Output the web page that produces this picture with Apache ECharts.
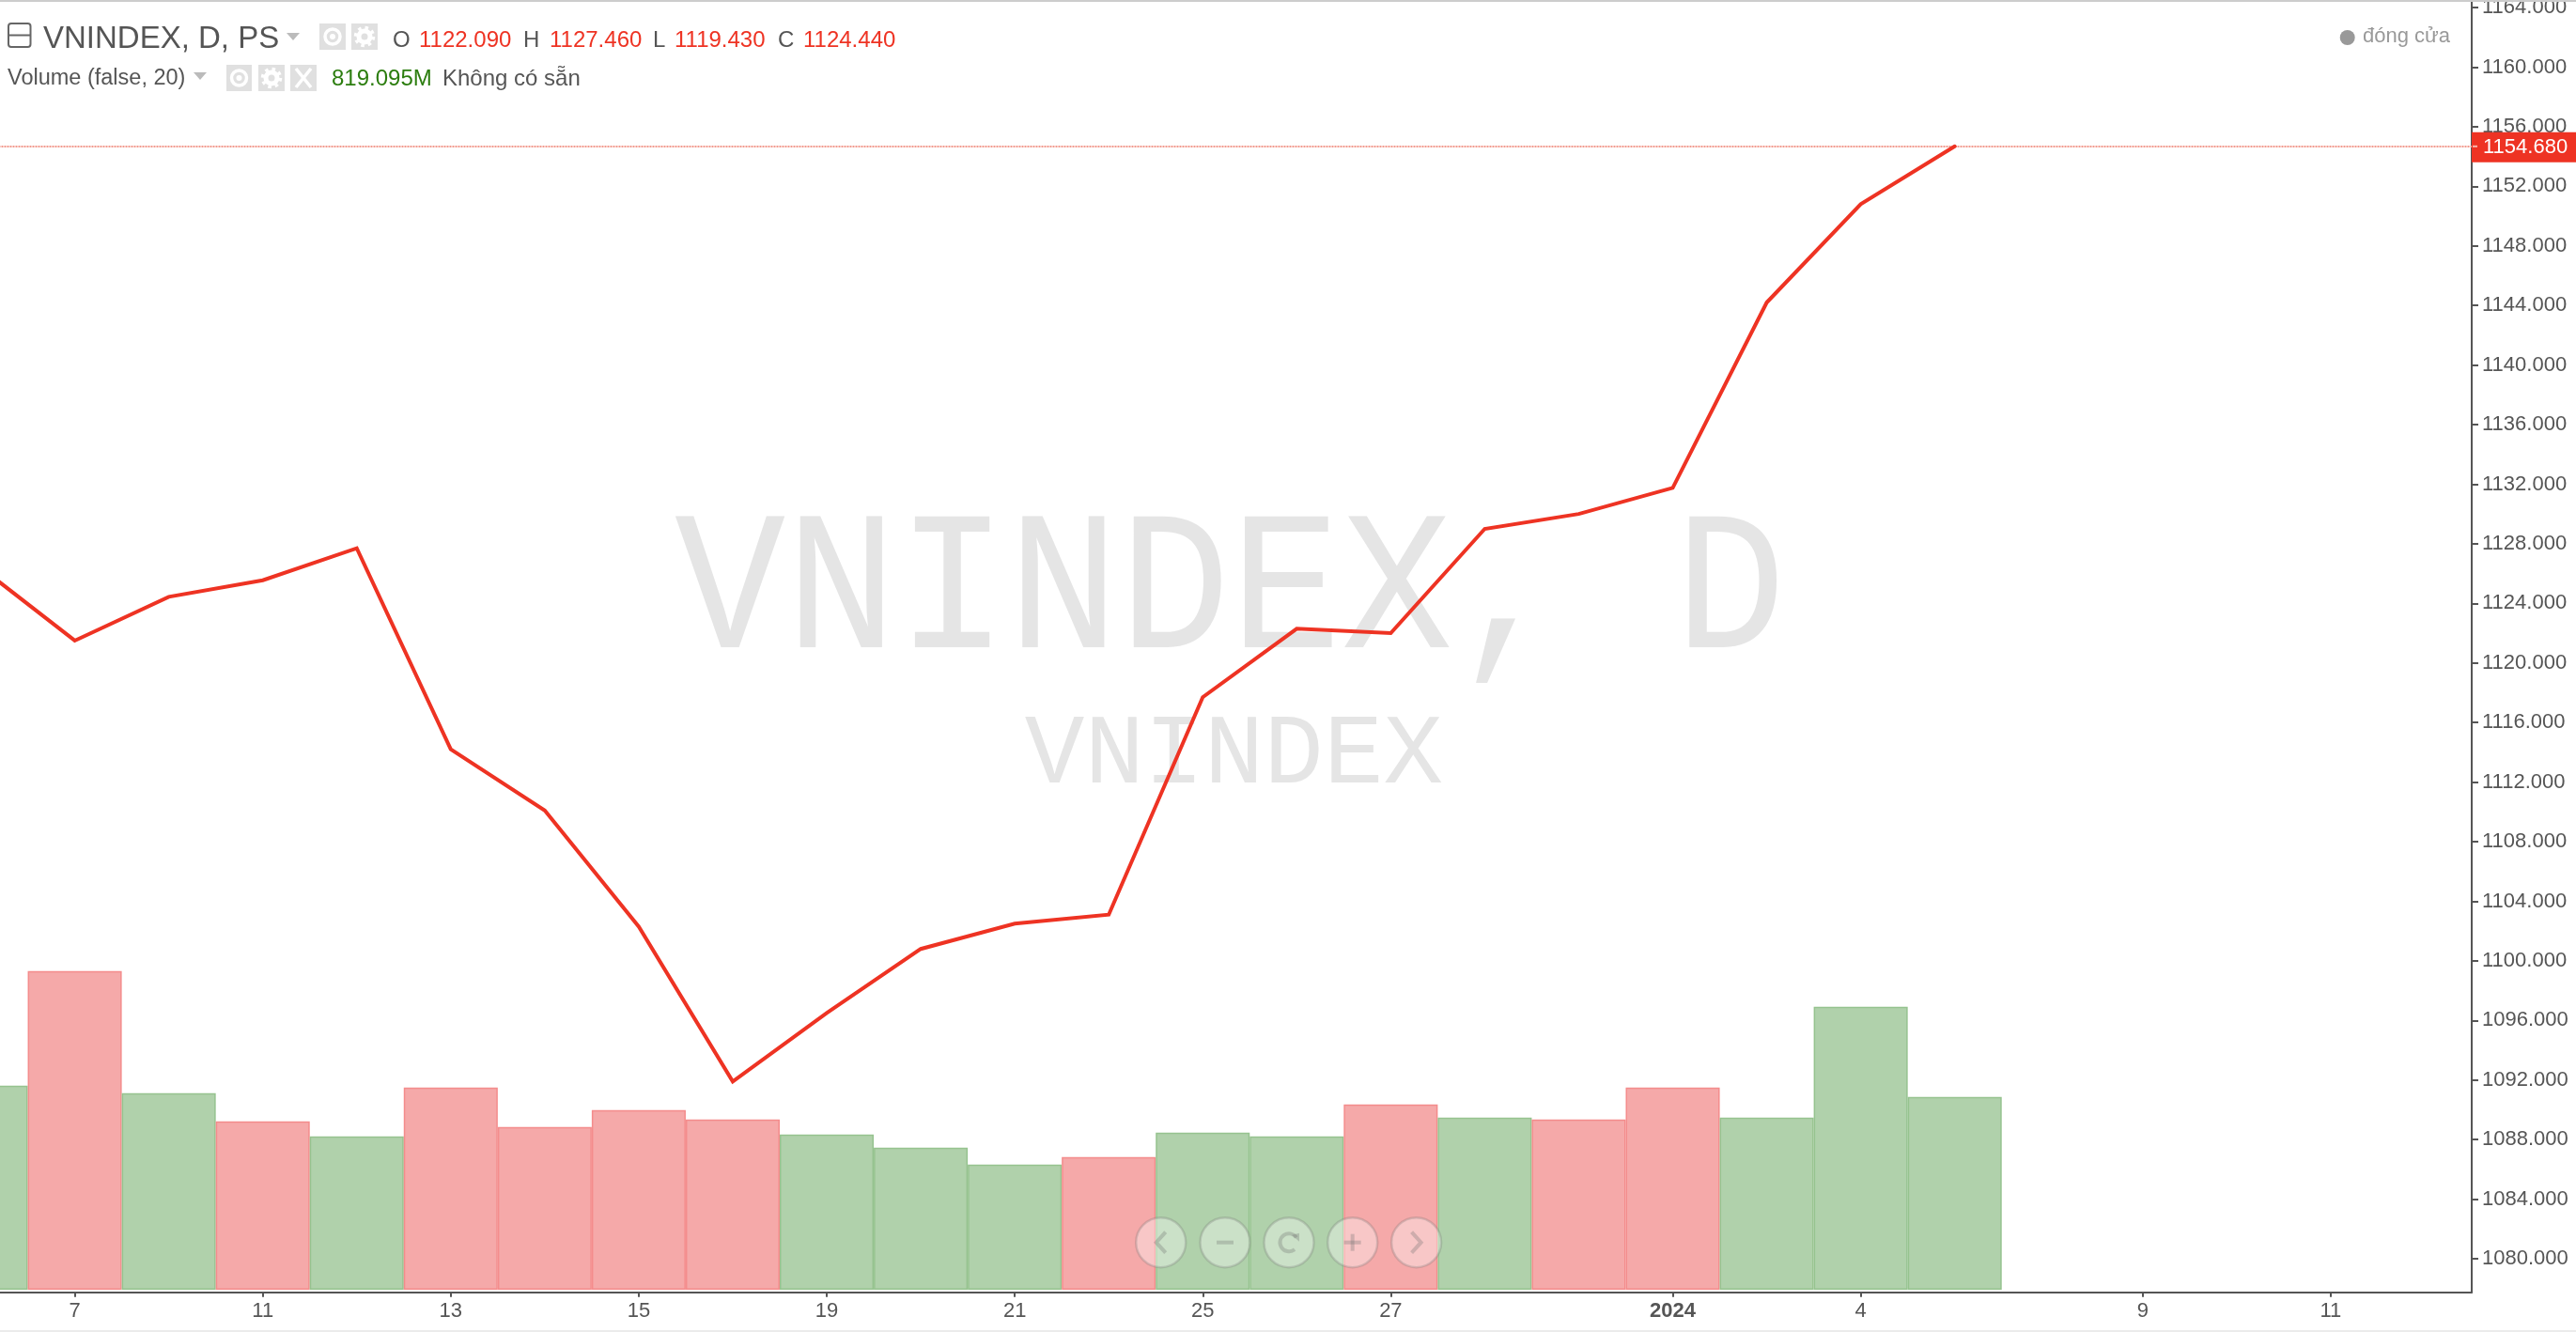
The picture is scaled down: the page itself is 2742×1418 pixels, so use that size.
<!DOCTYPE html>
<html>
<head>
<meta charset="utf-8">
<style>html,body{margin:0;padding:0;background:#fff}#c{width:2742px;height:1418px}</style>
<script src="https://cdn.jsdelivr.net/npm/echarts@6/dist/echarts.min.js"></script>
</head>
<body>
<div id="c"></div>
<script>
const categories = ['2023-12-06','2023-12-07','2023-12-08','2023-12-11','2023-12-12','2023-12-13','2023-12-14','2023-12-15','2023-12-18','2023-12-19','2023-12-20','2023-12-21','2023-12-22','2023-12-25','2023-12-26','2023-12-27','2023-12-28','2023-12-29','2024-01-02','2024-01-03','2024-01-04','2024-01-05','2024-01-08','2024-01-09','2024-01-10','2024-01-11','2024-01-12'];
const closeValues = [1126.4,1121.5,1124.44,1125.55,1127.7,1114.2,1110.1,1102.3,1091.9,1096.5,1100.8,1102.5,1103.1,1117.7,1122.3,1122.0,1129.0,1130.0,1131.75,1144.2,1150.8,1154.68];
const volumeValues = [850.4,1327.9,819.095,701.7,639,842.6,678.2,748.7,709.5,646.9,592.1,521.7,553,654.7,639,772.1,717.3,709.5,842.6,717.3,1179.1,803.4];
const volumeSides = ['g','r','g','r','g','r','r','r','r','g','g','g','r','g','g','r','g','r','r','g','g','g'];
const shownDates = ['2023-12-07','2023-12-11','2023-12-13','2023-12-15','2023-12-19','2023-12-21','2023-12-25','2023-12-27','2024-01-02','2024-01-04','2024-01-09','2024-01-11'];
const priceTicks = [1080,1084,1088,1092,1096,1100,1104,1108,1112,1116,1120,1124,1128,1132,1136,1140,1144,1148,1152,1156,1160,1164];
const lastPrice = 1154.68;

const RED='#EE3323', GREY='#555555', SANS='"Liberation Sans", Arial, sans-serif', MONO='"Liberation Mono", monospace';
const chart = echarts.init(document.getElementById('c'), null, {renderer:'canvas', width:2742, height:1418});

function txt(text,x,y,size,color,extra){
  return Object.assign({type:'text',x:x,y:y,z:50,silent:true,style:{text:text,fill:color,font:size+'px '+SANS,textAlign:'left',textVerticalAlign:'middle'}},extra||{});
}
function sq(x,y,w,h){ return {type:'rect',z:50,silent:true,shape:{x:x,y:y,width:w,height:h},style:{fill:'#E0E0E0'}}; }
function eye(cx,cy){ return [
  {type:'circle',z:51,silent:true,shape:{cx:cx,cy:cy,r:8},style:{fill:'none',stroke:'#fff',lineWidth:3.5}},
  {type:'circle',z:51,silent:true,shape:{cx:cx,cy:cy,r:3},style:{fill:'#fff'}}]; }
function gear(cx,cy){ return [
  {type:'circle',z:51,silent:true,shape:{cx:cx,cy:cy,r:6},style:{fill:'none',stroke:'#fff',lineWidth:5}},
  {type:'circle',z:51,silent:true,shape:{cx:cx,cy:cy,r:9.5},style:{fill:'none',stroke:'#fff',lineWidth:3.5,lineDash:[3.5,4]}}]; }
function cross(cx,cy){ return [
  {type:'line',z:51,silent:true,shape:{x1:cx-8,y1:cy-10,x2:cx+8,y2:cy+10},style:{stroke:'#fff',lineWidth:3.5}},
  {type:'line',z:51,silent:true,shape:{x1:cx+8,y1:cy-10,x2:cx-8,y2:cy+10},style:{stroke:'#fff',lineWidth:3.5}}]; }
function tri(x1,x2,y1,y2){ return {type:'polygon',z:50,silent:true,shape:{points:[[x1,y1],[x2,y1],[(x1+x2)/2,y2]]},style:{fill:'#BBBBBB'}}; }

const ICON='rgba(110,110,110,0.3)';
function navBtn(cx,cy){ return {type:'circle',z:60,silent:true,shape:{cx:cx,cy:cy,r:26.5},style:{fill:'rgba(255,255,255,0.35)',stroke:'rgba(120,120,120,0.28)',lineWidth:2.5}}; }
function poly(points,w){ return {type:'polyline',z:61,silent:true,shape:{points:points},style:{fill:'none',stroke:ICON,lineWidth:w||4}}; }
const NY=1322.7, NX=[1235.7,1304,1372,1439.7,1507.6];

const graphics = [
  {type:'rect',z:70,silent:true,shape:{x:0,y:0,width:2742,height:2},style:{fill:'#CCCCCC'}},
  {type:'rect',z:70,silent:true,shape:{x:0,y:1416,width:2742,height:2},style:{fill:'#EBEBEB'}},
  // watermark
  txt('VNINDEX, D',1309.5,633,212,'#E5E5E5',{z:0,scaleX:0.93,style:{text:'VNINDEX, D',fill:'#E5E5E5',font:'212px '+MONO,textAlign:'center',textVerticalAlign:'middle'}}),
  txt('VNINDEX',1313.5,805,106,'#E5E5E5',{z:0,scaleX:1.0,style:{text:'VNINDEX',fill:'#E5E5E5',font:'106px '+MONO,textAlign:'center',textVerticalAlign:'middle'}}),
  // legend row 1
  {type:'rect',z:50,silent:true,shape:{x:9,y:25,width:23.5,height:25,r:3},style:{fill:'none',stroke:'#666',lineWidth:2}},
  {type:'line',z:50,silent:true,shape:{x1:9,y1:37.5,x2:32.5,y2:37.5},style:{stroke:'#666',lineWidth:2}},
  txt('VNINDEX, D, PS',46,41.5,33,GREY),
  tri(305,319,35,43),
  sq(340,25,28,28), sq(374,25,28,28),
  ...eye(354,39), ...gear(388,39),
  txt('O',418,43,24,GREY), txt('1122.090',446,43,24,RED),
  txt('H',557,43,24,GREY), txt('1127.460',585,43,24,RED),
  txt('L',695,43,24,GREY), txt('1119.430',718,43,24,RED),
  txt('C',828,43,24,GREY), txt('1124.440',855,43,24,RED),
  // legend row 2
  txt('Volume (false, 20)',8,84,23.5,GREY),
  tri(206,220,77,85),
  sq(241,69,27,28), sq(275,69,28,28), sq(309,69,28,28),
  ...eye(254.5,83), ...gear(289,83), ...cross(323,83),
  txt('819.095M',353,84.5,24,'#2C7D0F'),
  txt('Không có sẵn',471,84.5,24,GREY),
  // status
  {type:'circle',z:50,silent:true,shape:{cx:2498.7,cy:40,r:8},style:{fill:'#999'}},
  txt('đóng cửa',2515,39,22,'#999'),
  // last price tick
  {type:'line',z:70,silent:true,shape:{x1:2632,y1:155.8,x2:2637,y2:155.8},style:{stroke:'#F6B9AF',lineWidth:2}},
  // nav buttons
  ...NX.map(x=>navBtn(x,NY)),
  poly([[NX[0]+5,NY-11],[NX[0]-5,NY],[NX[0]+5,NY+11]]),
  {type:'rect',z:61,silent:true,shape:{x:NX[1]-9,y:NY-2,width:18,height:4},style:{fill:ICON}},
  {type:'arc',z:61,silent:true,shape:{cx:NX[2],cy:NY,r:9.5,startAngle:-0.6,endAngle:-5.4,clockwise:false},style:{fill:'none',stroke:ICON,lineWidth:4}},
  {type:'polygon',z:61,silent:true,shape:{points:[[NX[2]+11,NY-10],[NX[2]+11,NY-1],[NX[2]+3,NY-8]]},style:{fill:ICON}},
  {type:'rect',z:61,silent:true,shape:{x:NX[3]-9,y:NY-2,width:18,height:4},style:{fill:ICON}},
  {type:'rect',z:61,silent:true,shape:{x:NX[3]-2,y:NY-9,width:4,height:18},style:{fill:ICON}},
  poly([[NX[4]-5,NY-11],[NX[4]+5,NY],[NX[4]-5,NY+11]])
];

function dateLabel(d){
  if(d==='2024-01-02') return '{b|2024}';
  return String(parseInt(d.slice(8),10));
}
const isShown = (i,v)=>shownDates.indexOf(v)>=0;

const GRID_LEFT=-70.5, GRID_W=2701.5;
chart.setOption({
  animation:false,
  backgroundColor:'#fff',
  graphic:{elements:graphics},
  grid:[
    {left:GRID_LEFT,top:2,width:GRID_W,height:1373.7,outerBoundsMode:'none'},
    {left:GRID_LEFT,top:2,width:GRID_W,height:1371,outerBoundsMode:'none'}
  ],
  xAxis:[
    {type:'category',gridIndex:0,data:categories,boundaryGap:true,
     axisLine:{lineStyle:{color:GREY,width:2}},
     axisTick:{show:true,alignWithLabel:true,interval:isShown,length:5,lineStyle:{color:GREY,width:2}},
     axisLabel:{interval:isShown,formatter:dateLabel,margin:9,color:GREY,fontSize:22,fontFamily:SANS,hideOverlap:false,
       rich:{b:{fontWeight:'bold',fontSize:22,color:GREY,fontFamily:SANS}}},
     splitLine:{show:false}},
    {type:'category',gridIndex:1,data:categories,boundaryGap:true,show:false}
  ],
  yAxis:[
    {type:'value',gridIndex:0,position:'right',min:1077.75,max:1164.38,scale:true,
     axisLine:{show:true,lineStyle:{color:GREY,width:2}},
     axisTick:{show:true,customValues:priceTicks,length:7,lineStyle:{color:GREY,width:2}},
     axisLabel:{customValues:priceTicks,formatter:v=>v.toFixed(3),margin:11,color:GREY,fontSize:22,fontFamily:SANS,showMinLabel:true,showMaxLabel:true,hideOverlap:false},
     splitLine:{show:false}},
    {type:'value',gridIndex:1,min:0,max:5365.4,show:false,splitLine:{show:false}}
  ],
  series:[
    {name:'Volume',type:'bar',xAxisIndex:1,yAxisIndex:1,barWidth:'100%',z:2,silent:true,
     data:volumeValues.map((v,i)=>({value:v,itemStyle: volumeSides[i]==='r'
        ? {color:'#F5A9A9',borderColor:'#F48C8C',borderWidth:1.5}
        : {color:'#B0D1AB',borderColor:'#96C38F',borderWidth:1.5}}))},
    {name:'VNINDEX',type:'line',xAxisIndex:0,yAxisIndex:0,data:closeValues,z:4,showSymbol:false,symbol:'none',silent:true,
     lineStyle:{color:RED,width:4,cap:'round',join:'miter'},
     markLine:{silent:true,symbol:'none',z:3,animation:false,
       data:[{yAxis:lastPrice}],
       lineStyle:{color:'#F29A8E',type:[2,1],width:2},
       label:{show:true,position:'end',distance:0,offset:[0,1],formatter:()=>lastPrice.toFixed(3),color:'#fff',fontSize:22,fontFamily:SANS,
         backgroundColor:RED,padding:[5,12,5,12],lineHeight:22,align:'left'}}}
  ]
});
</script>
</body>
</html>
